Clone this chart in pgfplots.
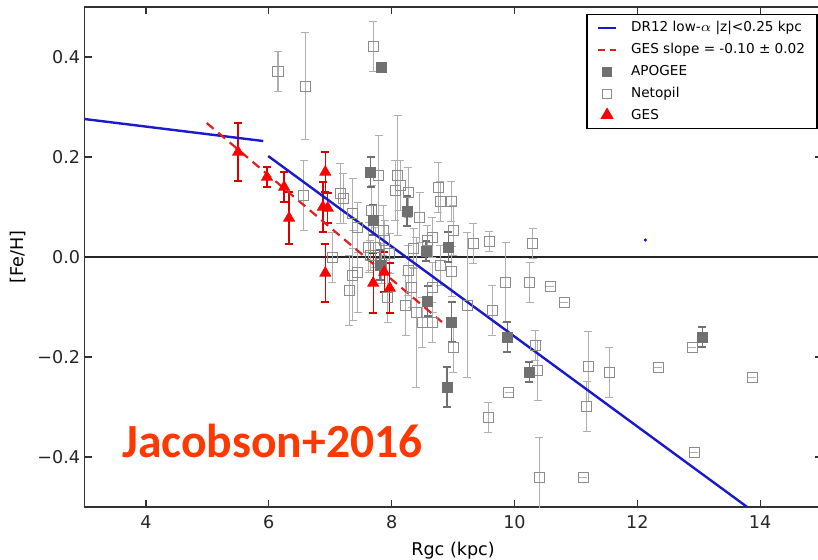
\documentclass[border=0pt]{standalone}
\usepackage{pgfplots}
\pgfplotsset{compat=1.18}
\usepackage{pgfplotstable}
\usepackage{fontspec}
\setmainfont{DejaVu Sans}
\newfontfamily\labelfont{Carlito}

\definecolor{netgray}{RGB}{140,140,140}
\definecolor{bargray}{RGB}{175,175,175}
\definecolor{apogee}{RGB}{112,112,112}
\definecolor{gesred}{RGB}{255,0,0}
\definecolor{slopered}{RGB}{225,30,30}
\definecolor{dr12blue}{RGB}{25,25,205}
\definecolor{jacob}{RGB}{255,55,0}

% Netopil open clusters: R_GC, [Fe/H], error
\pgfplotstableread{
x y e
6.15 0.372 0.04
6.59 0.342 0.107
7.70 0.422 0.05
6.57 0.124 0.07
7.16 0.128 0.06
7.21 0.118 0.05
7.37 0.088 0.07
7.45 0.060 0.05
7.79 0.164 0.08
8.10 0.164 0.12
8.06 0.134 0.06
8.14 0.144 0.05
8.27 0.130 0.05
7.68 0.094 0.05
7.86 0.054 0.05
8.46 0.080 0.05
8.76 0.140 0.05
8.79 0.112 0.04
8.97 0.112 0.04
9.00 0.054 0.05
8.66 0.040 0.04
9.33 0.028 0.04
9.59 0.032 0.02
10.30 0.028 0.03
7.03 0.000 0.05
7.63 0.020 0.05
7.73 0.020 0.04
7.89 0.034 0.04
7.97 0.008 0.04
8.36 0.018 0.04
8.58 0.034 0.03
7.65 0.004 0.03
7.84 -0.012 0.04
7.37 -0.036 0.09
7.45 -0.030 0.08
7.31 -0.066 0.07
8.27 -0.026 0.05
8.33 -0.060 0.04
8.79 -0.016 0.04
8.98 -0.028 0.05
8.23 -0.096 0.06
8.40 -0.110 0.15
8.50 -0.130 0.05
8.66 -0.130 0.04
8.67 -0.060 0.05
7.94 -0.080 0.05
9.00 -0.180 0.05
9.23 -0.096 0.145
9.64 -0.106 0.05
9.86 -0.050 0.08
10.25 -0.050 0.04
10.58 -0.058 0
10.81 -0.090 0
10.34 -0.176 0.03
10.38 -0.226 0.06
9.91 -0.270 0
9.57 -0.320 0.03
10.40 -0.440 0.08
11.12 -0.440 0
11.20 -0.218 0.07
11.18 -0.298 0.05
11.54 -0.230 0.05
12.34 -0.220 0
12.89 -0.180 0
12.93 -0.390 0
13.87 -0.240 0
}\netopil

% APOGEE clusters
\pgfplotstableread{
x y e
7.83 0.380 0
7.66 0.170 0.03
7.70 0.074 0.03
8.25 0.092 0.03
8.56 0.012 0.02
8.92 0.020 0.03
7.81 -0.016 0.03
8.59 -0.088 0.03
8.98 -0.130 0.04
9.88 -0.160 0.03
10.24 -0.230 0.02
8.90 -0.260 0.04
13.06 -0.160 0.02
}\apogeedata

% Gaia-ESO clusters
\pgfplotstableread{
x y e
5.50 0.210 0.058
5.97 0.160 0.020
6.25 0.140 0.030
6.33 0.078 0.052
6.92 0.170 0.040
6.88 0.100 0.050
6.96 0.098 0.030
6.92 -0.032 0.058
7.70 -0.052 0.060
7.88 -0.030 0.040
7.97 -0.062 0.050
}\gesdata

\begin{document}
\begin{tikzpicture}
\begin{axis}[
  name=ax,
  width=368.5pt, height=250pt, scale only axis,
  xmin=3, xmax=15, ymin=-0.5, ymax=0.5,
  xtick={4,6,8,10,12,14},
  xticklabels={4,6,8,10,12,14},
  ytick={-0.4,-0.2,0,0.2,0.4},
  yticklabels={−0.4,−0.2,0.0,0.2,0.4},
  tick align=inside,
  major tick length=3.5pt,
  every tick/.style={black!80, line width=0.6pt},
  axis line style={black!80, line width=0.9pt},
  ticklabel style={font=\fontsize{8.8}{10}\selectfont, text=black!85},
  yticklabel style={inner sep=0pt, xshift=-2pt},
  xticklabel style={inner sep=0pt, yshift=-4pt},
  xlabel={Rgc (kpc)},
  ylabel={[Fe/H]},
  every axis x label/.style={at={(rel axis cs:0.5,0)}, anchor=north,
    inner sep=0pt, yshift=-17.5pt, font=\fontsize{8.8}{10}\selectfont},
  every axis y label/.style={at={(rel axis cs:0,0.5)}, xshift=-33.3pt,
    rotate=90, anchor=center, inner sep=0pt, font=\fontsize{8.8}{10}\selectfont},
  legend cell align=left,
  legend style={at={(rel axis cs:1,1)}, anchor=north east, xshift=-2pt, yshift=-3.5pt,
    draw=black, line width=0.6pt, fill=white,
    font=\fontsize{6.8}{8}\selectfont,
    inner xsep=5pt, inner ysep=1.9pt, column sep=6pt, row sep=1.8pt,
    nodes={inner sep=1pt, text height=5.5pt, text depth=1.7pt}},
]
% legend entries
\addlegendimage{legend image code/.code={\draw[dr12blue, line width=1.1pt] (0pt,0pt) -- (9pt,0pt);}}
\addlegendentry{DR12 low-$\alpha$ |z|<0.25 kpc}
\addlegendimage{legend image code/.code={\draw[slopered, line width=1.1pt, dash pattern=on 3.5pt off 2.5pt] (0pt,0pt) -- (9pt,0pt);}}
\addlegendentry{GES slope = -0.10 ± 0.02}
\addlegendimage{legend image code/.code={\fill[apogee] (4.5pt,0pt) +(-2.2pt,-2.2pt) rectangle +(2.2pt,2.2pt);}}
\addlegendentry{APOGEE}
\addlegendimage{legend image code/.code={\draw[netgray, line width=0.5pt] (4.5pt,0pt) +(-2.2pt,-2.2pt) rectangle +(2.2pt,2.2pt);}}
\addlegendentry{Netopil}
\addlegendimage{legend image code/.code={\fill[gesred] (4.5pt,0.3pt) +(90:3.2pt) -- +(210:3.2pt) -- +(330:3.2pt) -- cycle;}}
\addlegendentry{GES}

% solar-metallicity reference line
\addplot[black!85, line width=0.8pt, forget plot] coordinates {(3,0) (15,0)};

% Netopil
\addplot[forget plot, only marks, mark=square, mark size=2.5pt,
  mark options={draw=netgray, line width=0.5pt, fill=none},
  error bars/.cd, y dir=both, y explicit,
  error bar style={color=bargray, line width=0.5pt},
  error mark options={rotate=90, bargray, mark size=2pt, line width=0.5pt}]
  table[x=x, y=y, y error=e]{\netopil};

% APOGEE
\addplot[forget plot, only marks, mark=square*, mark size=2.5pt,
  mark options={draw=apogee, fill=apogee, line width=0.4pt},
  error bars/.cd, y dir=both, y explicit,
  error bar style={color=apogee, line width=0.6pt},
  error mark options={rotate=90, apogee, mark size=2pt, line width=0.6pt}]
  table[x=x, y=y, y error=e]{\apogeedata};

% GES
\addplot[forget plot, only marks, mark=triangle*, mark size=3.2pt,
  mark options={draw=gesred, fill=gesred, line width=0.3pt},
  error bars/.cd, y dir=both, y explicit,
  error bar style={color=gesred!85!black, line width=0.7pt},
  error mark options={rotate=90, gesred!85!black, mark size=2pt, line width=0.7pt}]
  table[x=x, y=y, y error=e]{\gesdata};

% DR12 low-alpha gradient (two pieces)
\addplot[dr12blue, line width=1.2pt, forget plot] coordinates {(3,0.276) (5.91,0.232)};
\addplot[dr12blue, line width=1.2pt, forget plot] coordinates {(5.99,0.202) (13.79,-0.500)};

% GES fitted gradient
\addplot[slopered, line width=1.1pt, dash pattern=on 4.5pt off 3pt, forget plot]
  coordinates {(4.99,0.268) (8.82,-0.130)};

% stray point
\addplot[forget plot, only marks, mark=*, mark size=0.6pt, dr12blue] coordinates {(12.13,0.034)};

\node[anchor=base west, inner sep=0pt, text=jacob,
  font=\labelfont\bfseries\fontsize{23.8}{28}\selectfont] at (axis cs:3.61,-0.4) {Jacobson+2016};
\end{axis}
\pgfresetboundingbox
\path[use as bounding box] ([xshift=-42.25pt,yshift=-26pt]ax.south west)
  rectangle ([xshift=366.7pt,yshift=3.5pt]ax.north west);
\end{tikzpicture}
\end{document}
